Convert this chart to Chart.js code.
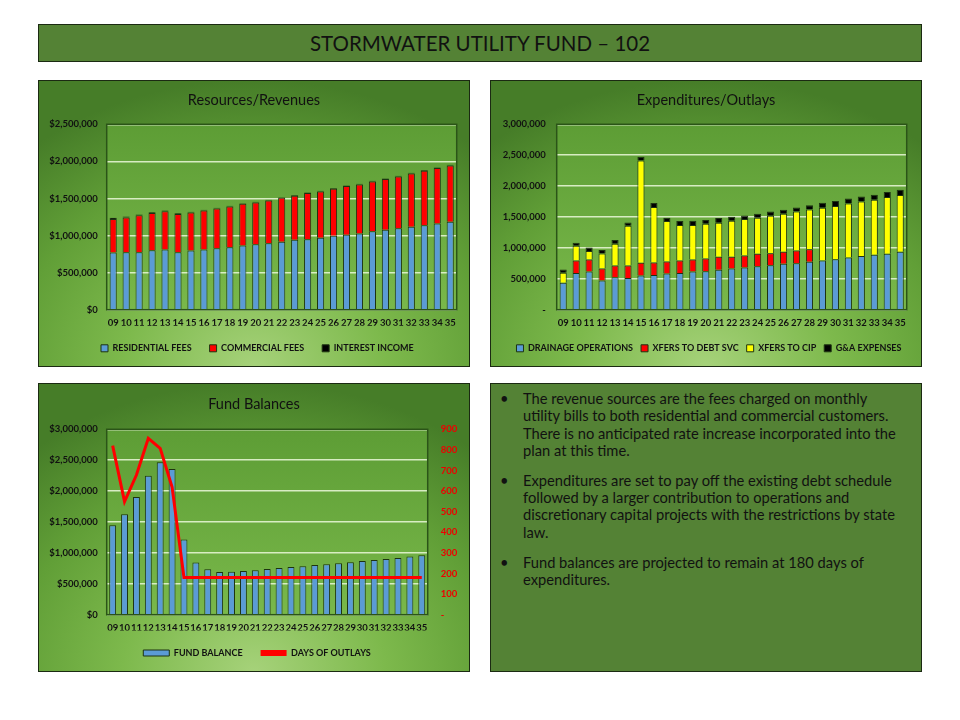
<!DOCTYPE html>
<html>
<head>
<meta charset="utf-8">
<script src="https://cdn.jsdelivr.net/npm/chart.js@4.4.1/dist/chart.umd.min.js"></script>
<style>
  body { margin: 0; background: #fff; width: 960px; height: 720px; position: relative; overflow: hidden; font-family: Lato, "Noto Sans", sans-serif; }
  .banner {
    position: absolute; left: 38px; top: 24px; width: 884px; height: 38px; box-sizing: border-box;
    background: #548235; border: 1px solid #1b2a12;
    text-align: center; line-height: 37px; font-size: 20.5px; color: #111;
  }
  .panel {
    position: absolute; box-sizing: border-box;
    background: radial-gradient(ellipse 80% 100% at 50% 100%, #a6d27a 0%, #7db94c 38%, #619f37 70%, #467d28 100%);
    outline: 1px solid #1b2a12; outline-offset: -1px;
  }
  .notes {
    position: absolute; left: 490px; top: 383px; width: 432px; height: 289px; box-sizing: border-box;
    background: #548235; border: 1px solid #1b2a12; color: #111; font-size: 14.7px; line-height: 17.3px;
  }
  .notes p { position: relative; margin: 0 0 12.7px 0; padding-left: 32px; white-space: nowrap; }
  .notes p::before { content: "\2022"; position: absolute; left: 9px; }
</style>
</head>
<body>
<div class="banner">STORMWATER UTILITY FUND – 102</div>

<div class="panel" style="left:38px;top:80px;width:432px;height:287px;"><canvas id="revenueChart"></canvas></div>
<div class="panel" style="left:490px;top:80px;width:432px;height:287px;"><canvas id="outlayChart"></canvas></div>
<div class="panel" style="left:38px;top:383px;width:432px;height:289px;"><canvas id="balanceChart"></canvas></div>

<div class="notes">
  <div style="height:6px"></div>
  <p>The revenue sources are the fees charged on monthly<br>utility bills to both residential and commercial customers.<br>There is no anticipated rate increase incorporated into the<br>plan at this time.</p>
  <p>Expenditures are set to pay off the existing debt schedule<br>followed by a larger contribution to operations and<br>discretionary capital projects with the restrictions by state<br>law.</p>
  <p>Fund balances are projected to remain at 180 days of<br>expenditures.</p>
</div>

<script>
const years = ['09','10','11','12','13','14','15','16','17','18','19','20','21','22','23','24','25','26','27','28','29','30','31','32','33','34','35'];

// Resources / Revenues
const residentialFees = [770000,775000,775000,802000,811000,775000,797000,811000,829000,842000,865000,883000,896000,915000,942000,951000,969000,996000,1009000,1027000,1059000,1077000,1099000,1117000,1140000,1162000,1185000];
const commercialFees = [454000,468000,497000,501000,517000,517000,514000,527000,536000,550000,563000,563000,577000,594000,594000,621000,626000,635000,658000,662000,671000,684000,698000,721000,734000,748000,761000];
const interestIncome = [15000,14000,12000,12000,10000,10000,9000,9000,9000,9000,9000,9000,9000,9000,9000,9000,9000,9000,9000,9000,9000,9000,9000,9000,9000,9000,9000];

// Expenditures / Outlays
const drainageOps = [436000,592000,619000,473000,527000,511000,554000,560000,587000,592000,619000,624000,646000,667000,683000,705000,721000,742000,753000,775000,796000,818000,845000,867000,888000,904000,937000];
const xfersDebtSvc = [0,205000,194000,195000,189000,205000,205000,205000,194000,205000,194000,205000,210000,189000,194000,199000,194000,195000,205000,205000,0,0,0,0,0,0,0];
const xfersCip = [161000,237000,135000,242000,351000,642000,1656000,895000,653000,572000,556000,562000,551000,583000,589000,584000,605000,615000,632000,642000,853000,858000,874000,885000,891000,918000,917000];
const gaExpenses = [54000,49000,59000,54000,59000,54000,60000,65000,54000,65000,70000,59000,75000,64000,59000,64000,70000,65000,64000,70000,81000,81000,81000,81000,81000,81000,87000];

// Fund balances
const fundBalance = [1449000,1627000,1903000,2249000,2465000,2357000,1216000,843000,735000,692000,697000,708000,719000,741000,757000,773000,784000,805000,816000,832000,849000,870000,886000,903000,919000,940000,962000];
const daysOfOutlays = [821,549,678,856,808,620,180,180,180,180,180,180,180,180,180,180,180,180,180,180,180,180,180,180,180,180,180];

const BLUE = '#5b9bd5';
const RED = '#ff0000';
const YELLOW = '#ffff00';
const BLACK = '#000000';
const EDGE = '#1d3311';
const GRID = 'rgba(228,244,210,0.9)';

Chart.defaults.font.family = 'Lato, "Noto Sans", sans-serif';
Chart.defaults.font.weight = 'bold';
Chart.defaults.font.size = 9.5;
Chart.defaults.color = '#111';
Chart.defaults.animation = false;

// plot area fill + border, panel title, and a sideways nudge for the legend
const plotArea = {
    id: 'plotArea',
    afterLayout(chart, args, opts) {
        if (opts.legendShift && chart.legend) {
            chart.legend.left += opts.legendShift;
            chart.legend.right += opts.legendShift;
        }
    },
    beforeDraw(chart) {
        const {ctx, chartArea: a} = chart;
        const g = ctx.createLinearGradient(0, a.top, 0, a.bottom);
        g.addColorStop(0, '#5d9d35');
        g.addColorStop(1, '#79b84a');
        ctx.save();
        ctx.fillStyle = g;
        ctx.fillRect(a.left, a.top, a.right - a.left, a.bottom - a.top);
        ctx.restore();
    },
    beforeDatasetsDraw(chart) {
        const {ctx, chartArea: a} = chart;
        ctx.save();
        ctx.strokeStyle = '#2b5418';
        ctx.lineWidth = 1.5;
        ctx.strokeRect(a.left, a.top, a.right - a.left, a.bottom - a.top);
        ctx.restore();
    },
    afterDraw(chart, args, opts) {
        const {ctx} = chart;
        ctx.save();
        ctx.font = 'normal 14.5px Lato, "Noto Sans", sans-serif';
        ctx.fillStyle = '#111';
        ctx.textAlign = 'center';
        ctx.textBaseline = 'middle';
        ctx.fillText(opts.text, chart.width / 2, opts.y);
        ctx.restore();
    }
};

function barSet(label, data, color) {
    return {
        label, data,
        backgroundColor: color,
        borderColor: EDGE,
        borderWidth: 1,
        barPercentage: 0.55,
        categoryPercentage: 1.0,
        stack: 's'
    };
}

function xAxis(height) {
    return {
        stacked: true,
        grid: { display: false, drawTicks: false },
        border: { display: false },
        ticks: { padding: 8, autoSkip: false, maxRotation: 0 },
        afterFit: (scale) => { scale.height = height; }
    };
}

function legendOpts(pad) {
    return {
        position: 'bottom',
        labels: { boxWidth: 7, boxHeight: 7, padding: pad, font: { size: 9, weight: 'bold' }, color: '#111' }
    };
}

function money(v) {
    return '$' + v.toLocaleString('en-US');
}

function renderRevenueChart() {
    const ctx = document.getElementById('revenueChart').getContext('2d');
    new Chart(ctx, {
        type: 'bar',
        data: {
            labels: years,
            datasets: [
                barSet('RESIDENTIAL FEES', residentialFees, BLUE),
                barSet('COMMERCIAL FEES', commercialFees, RED),
                barSet('INTEREST INCOME', interestIncome, BLACK)
            ]
        },
        options: {
            responsive: true,
            maintainAspectRatio: false,
            layout: { padding: { top: 44.3, right: 13.3, bottom: 4.2, left: 0 } },
            scales: {
                x: xAxis(16.1),
                y: {
                    stacked: true, min: 0, max: 2500000,
                    grid: { color: GRID, lineWidth: 1.5, drawTicks: false },
                    border: { display: false },
                    ticks: { stepSize: 500000, padding: 9, callback: money },
                    afterFit: (scale) => { scale.width = 68.7; }
                }
            },
            plugins: {
                legend: legendOpts(18),
                tooltip: { enabled: false },
                plotArea: { text: 'Resources/Revenues', y: 20, legendShift: 10 }
            }
        },
        plugins: [plotArea]
    });
}

function renderOutlayChart() {
    const ctx = document.getElementById('outlayChart').getContext('2d');
    new Chart(ctx, {
        type: 'bar',
        data: {
            labels: years,
            datasets: [
                barSet('DRAINAGE OPERATIONS', drainageOps, BLUE),
                barSet('XFERS TO DEBT SVC', xfersDebtSvc, RED),
                barSet('XFERS TO CIP', xfersCip, YELLOW),
                barSet('G&A EXPENSES', gaExpenses, BLACK)
            ]
        },
        options: {
            responsive: true,
            maintainAspectRatio: false,
            layout: { padding: { top: 44.3, right: 15.3, bottom: 4.2, left: 0 } },
            scales: {
                x: xAxis(26.1),
                y: {
                    stacked: true, min: 0, max: 3000000,
                    grid: { color: GRID, lineWidth: 1.5, drawTicks: false },
                    border: { display: false },
                    ticks: { stepSize: 500000, padding: 11, callback: v => v === 0 ? '-' : v.toLocaleString('en-US') },
                    afterFit: (scale) => { scale.width = 66.7; }
                }
            },
            plugins: {
                legend: legendOpts(8),
                tooltip: { enabled: false },
                plotArea: { text: 'Expenditures/Outlays', y: 20, legendShift: 10.6 }
            }
        },
        plugins: [plotArea]
    });
}

function renderBalanceChart() {
    const ctx = document.getElementById('balanceChart').getContext('2d');
    new Chart(ctx, {
        data: {
            labels: years,
            datasets: [
                {
                    type: 'line', label: 'DAYS OF OUTLAYS', data: daysOfOutlays, yAxisID: 'y1',
                    borderColor: RED, backgroundColor: RED, borderWidth: 3,
                    pointRadius: 0, tension: 0, order: 0
                },
                {
                    type: 'bar', label: 'FUND BALANCE', data: fundBalance, yAxisID: 'y',
                    backgroundColor: BLUE, borderColor: EDGE, borderWidth: 1,
                    barPercentage: 0.58, categoryPercentage: 1.0, order: 1
                }
            ]
        },
        options: {
            responsive: true,
            maintainAspectRatio: false,
            layout: { padding: { top: 46.3, right: 0, bottom: 4.5, left: 0 } },
            scales: {
                x: Object.assign(xAxis(15.8), { stacked: false }),
                y: {
                    position: 'left', min: 0, max: 3000000,
                    grid: { color: GRID, lineWidth: 1.5, drawTicks: false },
                    border: { display: false },
                    ticks: { stepSize: 500000, padding: 9, callback: money },
                    afterFit: (scale) => { scale.width = 68.7; }
                },
                y1: {
                    position: 'right', min: 0, max: 900,
                    grid: { drawOnChartArea: false, drawTicks: false },
                    border: { display: false },
                    ticks: { stepSize: 100, padding: 13, color: '#ee0000', callback: v => v === 0 ? '-' : v },
                    afterFit: (scale) => { scale.width = 42.3; }
                }
            },
            plugins: {
                legend: {
                    position: 'bottom',
                    reverse: true,
                    labels: {
                        boxWidth: 26, boxHeight: 6, padding: 18, color: '#111',
                        font: { size: 9, weight: 'bold' },
                        generateLabels(chart) {
                            const items = Chart.defaults.plugins.legend.labels.generateLabels(chart);
                            items.forEach(it => { if (it.text === 'DAYS OF OUTLAYS') it.lineWidth = 0; });
                            return items;
                        }
                    }
                },
                tooltip: { enabled: false },
                plotArea: { text: 'Fund Balances', y: 21, legendShift: 3 }
            }
        },
        plugins: [plotArea]
    });
}

renderRevenueChart();
renderOutlayChart();
renderBalanceChart();
</script>
</body>
</html>
